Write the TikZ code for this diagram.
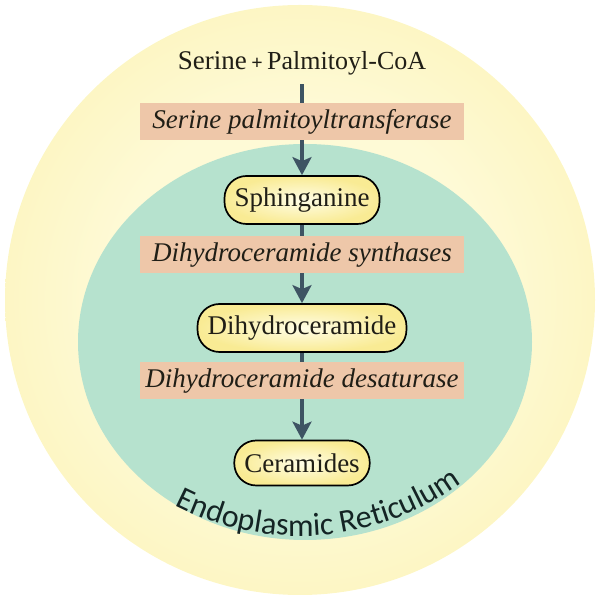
\documentclass[tikz,border=0pt]{standalone}
\usepackage{fontspec}
\setmainfont{Liberation Serif}
\newfontfamily\erfont{Carlito}
\usepackage{tikz}
\usetikzlibrary{
  positioning,
  arrows.meta,
  decorations.text
}
\usepackage{xcolor}

\definecolor{cellyellow}{RGB}{249,237,150}
\definecolor{cellmid}{RGB}{251,242,178}
\definecolor{cellpale}{RGB}{254,250,214}
\definecolor{ergreen}{RGB}{182,226,206}
\definecolor{enzyme}{RGB}{238,199,169}
\definecolor{pillyellow}{RGB}{249,235,148}
\definecolor{pillpale}{RGB}{255,253,230}
\definecolor{flowcol}{RGB}{62,84,99}
\definecolor{inkcol}{RGB}{32,30,22}
\definecolor{ercol}{RGB}{20,36,36}

\pgfdeclareradialshading{cellglow}{\pgfpoint{0bp}{0bp}}{color(0bp)=(cellpale); color(16bp)=(cellpale); color(34bp)=(cellmid); color(50bp)=(cellyellow)}

\begin{document}
\begin{tikzpicture}[x=1pt,y=1pt,>={Stealth[length=18pt,width=19pt,inset=4pt]},
    metab/.style={rectangle, rounded corners=22pt, draw=black, line width=1.7pt,
      shading=radial, inner color=pillpale, outer color=pillyellow,
      font=\fontsize{27}{30}\selectfont, text=inkcol, minimum height=48pt, inner xsep=10pt},
    enzymebox/.style={fill=enzyme, minimum width=324pt, minimum height=37pt,
      font=\fontsize{27}{30}\selectfont\itshape, text=inkcol},
    flow/.style={->, draw=flowcol, line width=3.5pt}]
                \useasboundingbox (0,0) rectangle (600,599);
                \shade[shading=cellglow] (300,299) circle (295);
                \fill[ergreen] (305,257) ellipse (227 and 198);
                \path[decorate, decoration={text along path, text align=center,
                    text={|\erfont\fontsize{32}{36}\selectfont\color{ercol}|Endoplasmic Reticulum}}]
                    (300,337) ++(228:274) arc (228:321:274);
                \node[font=\fontsize{27}{30}\selectfont, text=inkcol] (substr) at (302,536)
                    {Serine\,{\fontsize{20}{24}\selectfont\bfseries +}\,{\fontsize{26}{30}\selectfont Palmitoyl-CoA}};
                \node[metab] (sph) at (302,399) {Sphinganine};
                \node[metab] (dhc) at (302,271) {Dihydroceramide};
                \node[metab, minimum height=45pt] (cer) at (302,136) {Ceramides};
                \draw[flow, shorten <=6pt] (substr) -- (sph);
                \draw[flow] (sph) -- (dhc);
                \draw[flow] (dhc) -- (cer);
                \node[enzymebox] (spt) at (302,477) {Serine palmitoyltransferase};
                \node[enzymebox] (cers) at (302,344) {Dihydroceramide synthases};
                \node[enzymebox] (des) at (302,218) {Dihydroceramide desaturase};
            \end{tikzpicture}
\end{document}
